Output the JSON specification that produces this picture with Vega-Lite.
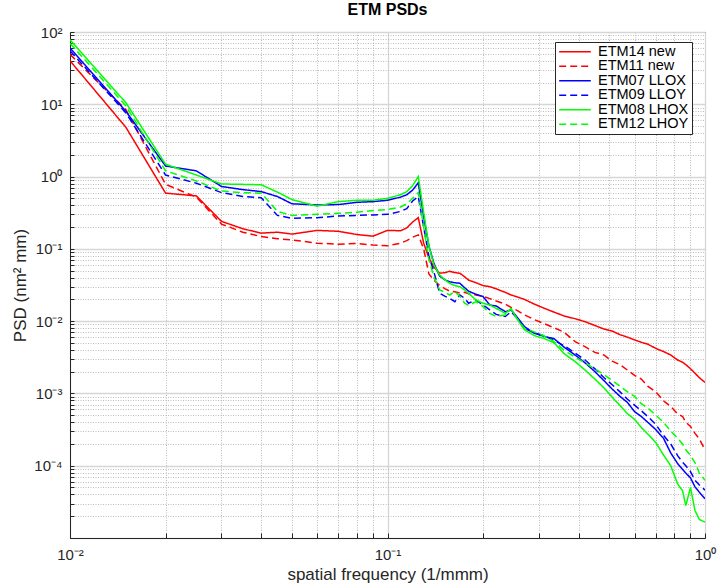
{
"$schema": "https://vega.github.io/schema/vega-lite/v6.json",
"width": 635, "height": 506,
"autosize": {"type": "none"},
"padding": {"left": 70, "top": 32, "right": 12, "bottom": 50},
"background": "white",
"config": {"font": "Liberation Sans", "view": {"stroke": "#262626", "strokeWidth": 1}},
"title": {"text": "ETM PSDs", "fontSize": 16, "fontWeight": "bold", "font": "Liberation Sans", "offset": 7, "color": "black"},
"data": {"values": [
{"f":0.01,"ETM14 new":40,"ETM11 new":49,"ETM07 LLOX":60,"ETM09 LLOY":55,"ETM08 LHOX":78,"ETM12 LHOY":70},
{"f":0.015,"ETM14 new":4.8,"ETM11 new":8.4,"ETM07 LLOX":8.0,"ETM09 LLOY":7.6,"ETM08 LHOX":10.5,"ETM12 LHOY":9.5},
{"f":0.02,"ETM14 new":0.59,"ETM11 new":0.78,"ETM07 LLOX":1.4,"ETM09 LLOY":1.05,"ETM08 LHOX":1.48,"ETM12 LHOY":1.2},
{"f":0.025,"ETM14 new":0.54,"ETM11 new":0.52,"ETM07 LLOX":1.2,"ETM09 LLOY":0.81,"ETM08 LHOX":1.05,"ETM12 LHOY":0.87},
{"f":0.03,"ETM14 new":0.24,"ETM11 new":0.22,"ETM07 LLOX":0.73,"ETM09 LLOY":0.6,"ETM08 LHOX":0.79,"ETM12 LHOY":0.63},
{"f":0.035,"ETM14 new":0.19,"ETM11 new":0.17,"ETM07 LLOX":0.66,"ETM09 LLOY":0.53,"ETM08 LHOX":0.78,"ETM12 LHOY":0.6},
{"f":0.04,"ETM14 new":0.165,"ETM11 new":0.148,"ETM07 LLOX":0.62,"ETM09 LLOY":0.51,"ETM08 LHOX":0.77,"ETM12 LHOY":0.59},
{"f":0.045,"ETM14 new":0.17,"ETM11 new":0.138,"ETM07 LLOX":0.53,"ETM09 LLOY":0.29,"ETM08 LHOX":0.61,"ETM12 LHOY":0.33},
{"f":0.05,"ETM14 new":0.16,"ETM11 new":0.133,"ETM07 LLOX":0.42,"ETM09 LLOY":0.265,"ETM08 LHOX":0.48,"ETM12 LHOY":0.29},
{"f":0.06,"ETM14 new":0.18,"ETM11 new":0.12,"ETM07 LLOX":0.405,"ETM09 LLOY":0.27,"ETM08 LHOX":0.39,"ETM12 LHOY":0.3},
{"f":0.07,"ETM14 new":0.175,"ETM11 new":0.116,"ETM07 LLOX":0.41,"ETM09 LLOY":0.285,"ETM08 LHOX":0.45,"ETM12 LHOY":0.31},
{"f":0.08,"ETM14 new":0.158,"ETM11 new":0.119,"ETM07 LLOX":0.44,"ETM09 LLOY":0.29,"ETM08 LHOX":0.47,"ETM12 LHOY":0.32},
{"f":0.09,"ETM14 new":0.15,"ETM11 new":0.113,"ETM07 LLOX":0.45,"ETM09 LLOY":0.295,"ETM08 LHOX":0.47,"ETM12 LHOY":0.34},
{"f":0.1,"ETM14 new":0.18,"ETM11 new":0.11,"ETM07 LLOX":0.47,"ETM09 LLOY":0.3,"ETM08 LHOX":0.5,"ETM12 LHOY":0.35},
{"f":0.11,"ETM14 new":0.178,"ETM11 new":0.12,"ETM07 LLOX":0.52,"ETM09 LLOY":0.33,"ETM08 LHOX":0.56,"ETM12 LHOY":0.38},
{"f":0.115,"ETM14 new":0.195,"ETM11 new":0.13,"ETM07 LLOX":0.56,"ETM09 LLOY":0.36,"ETM08 LHOX":0.62,"ETM12 LHOY":0.42},
{"f":0.12,"ETM14 new":0.235,"ETM11 new":0.145,"ETM07 LLOX":0.65,"ETM09 LLOY":0.46,"ETM08 LHOX":0.75,"ETM12 LHOY":0.5},
{"f":0.125,"ETM14 new":0.27,"ETM11 new":0.156,"ETM07 LLOX":0.82,"ETM09 LLOY":0.53,"ETM08 LHOX":1.0,"ETM12 LHOY":0.6},
{"f":0.13,"ETM14 new":0.12,"ETM11 new":0.1,"ETM07 LLOX":0.28,"ETM09 LLOY":0.2,"ETM08 LHOX":0.32,"ETM12 LHOY":0.2},
{"f":0.135,"ETM14 new":0.075,"ETM11 new":0.045,"ETM07 LLOX":0.11,"ETM09 LLOY":0.079,"ETM08 LHOX":0.11,"ETM12 LHOY":0.071},
{"f":0.14,"ETM14 new":0.056,"ETM11 new":0.037,"ETM07 LLOX":0.063,"ETM09 LLOY":0.048,"ETM08 LHOX":0.06,"ETM12 LHOY":0.041},
{"f":0.146,"ETM14 new":0.046,"ETM11 new":0.031,"ETM07 LLOX":0.042,"ETM09 LLOY":0.0243,"ETM08 LHOX":0.0435,"ETM12 LHOY":0.027},
{"f":0.152,"ETM14 new":0.047,"ETM11 new":0.028,"ETM07 LLOX":0.037,"ETM09 LLOY":0.022,"ETM08 LHOX":0.037,"ETM12 LHOY":0.025},
{"f":0.157,"ETM14 new":0.049,"ETM11 new":0.026,"ETM07 LLOX":0.035,"ETM09 LLOY":0.0207,"ETM08 LHOX":0.0334,"ETM12 LHOY":0.023},
{"f":0.163,"ETM14 new":0.047,"ETM11 new":0.0255,"ETM07 LLOX":0.034,"ETM09 LLOY":0.0186,"ETM08 LHOX":0.031,"ETM12 LHOY":0.0256},
{"f":0.169,"ETM14 new":0.046,"ETM11 new":0.0245,"ETM07 LLOX":0.0334,"ETM09 LLOY":0.023,"ETM08 LHOX":0.03,"ETM12 LHOY":0.022},
{"f":0.175,"ETM14 new":0.041,"ETM11 new":0.025,"ETM07 LLOX":0.029,"ETM09 LLOY":0.0207,"ETM08 LHOX":0.027,"ETM12 LHOY":0.0177},
{"f":0.18,"ETM14 new":0.037,"ETM11 new":0.024,"ETM07 LLOX":0.026,"ETM09 LLOY":0.0177,"ETM08 LHOX":0.0243,"ETM12 LHOY":0.0165},
{"f":0.19,"ETM14 new":0.034,"ETM11 new":0.023,"ETM07 LLOX":0.0235,"ETM09 LLOY":0.0196,"ETM08 LHOX":0.0196,"ETM12 LHOY":0.0186},
{"f":0.2,"ETM14 new":0.031,"ETM11 new":0.022,"ETM07 LLOX":0.0219,"ETM09 LLOY":0.0167,"ETM08 LHOX":0.0177,"ETM12 LHOY":0.0159},
{"f":0.21,"ETM14 new":0.03,"ETM11 new":0.0205,"ETM07 LLOX":0.0167,"ETM09 LLOY":0.0143,"ETM08 LHOX":0.0167,"ETM12 LHOY":0.0128},
{"f":0.22,"ETM14 new":0.028,"ETM11 new":0.019,"ETM07 LLOX":0.0162,"ETM09 LLOY":0.0124,"ETM08 LHOX":0.015,"ETM12 LHOY":0.0116},
{"f":0.235,"ETM14 new":0.025,"ETM11 new":0.0172,"ETM07 LLOX":0.0135,"ETM09 LLOY":0.0116,"ETM08 LHOX":0.0128,"ETM12 LHOY":0.0122},
{"f":0.245,"ETM14 new":0.023,"ETM11 new":0.0155,"ETM07 LLOX":0.0143,"ETM09 LLOY":0.0135,"ETM08 LHOX":0.0148,"ETM12 LHOY":0.0148},
{"f":0.255,"ETM14 new":0.0218,"ETM11 new":0.0142,"ETM07 LLOX":0.0116,"ETM09 LLOY":0.0112,"ETM08 LHOX":0.011,"ETM12 LHOY":0.011},
{"f":0.27,"ETM14 new":0.02,"ETM11 new":0.0122,"ETM07 LLOX":0.0084,"ETM09 LLOY":0.0079,"ETM08 LHOX":0.0076,"ETM12 LHOY":0.0079},
{"f":0.29,"ETM14 new":0.0172,"ETM11 new":0.0105,"ETM07 LLOX":0.0068,"ETM09 LLOY":0.0069,"ETM08 LHOX":0.0063,"ETM12 LHOY":0.0071},
{"f":0.31,"ETM14 new":0.0152,"ETM11 new":0.0093,"ETM07 LLOX":0.0062,"ETM09 LLOY":0.0063,"ETM08 LHOX":0.0058,"ETM12 LHOY":0.0063},
{"f":0.335,"ETM14 new":0.0133,"ETM11 new":0.0081,"ETM07 LLOX":0.0057,"ETM09 LLOY":0.0054,"ETM08 LHOX":0.005,"ETM12 LHOY":0.0052},
{"f":0.36,"ETM14 new":0.0118,"ETM11 new":0.007,"ETM07 LLOX":0.00437,"ETM09 LLOY":0.00457,"ETM08 LHOX":0.00355,"ETM12 LHOY":0.00398},
{"f":0.39,"ETM14 new":0.0108,"ETM11 new":0.0052,"ETM07 LLOX":0.00339,"ETM09 LLOY":0.00363,"ETM08 LHOX":0.00275,"ETM12 LHOY":0.00316},
{"f":0.42,"ETM14 new":0.0098,"ETM11 new":0.0044,"ETM07 LLOX":0.00263,"ETM09 LLOY":0.00288,"ETM08 LHOX":0.00209,"ETM12 LHOY":0.00263},
{"f":0.45,"ETM14 new":0.0087,"ETM11 new":0.0037,"ETM07 LLOX":0.002,"ETM09 LLOY":0.00219,"ETM08 LHOX":0.00158,"ETM12 LHOY":0.00219},
{"f":0.48,"ETM14 new":0.0078,"ETM11 new":0.0034,"ETM07 LLOX":0.00151,"ETM09 LLOY":0.00166,"ETM08 LHOX":0.0012,"ETM12 LHOY":0.00182},
{"f":0.51,"ETM14 new":0.0073,"ETM11 new":0.0028,"ETM07 LLOX":0.00115,"ETM09 LLOY":0.00132,"ETM08 LHOX":0.00089,"ETM12 LHOY":0.00151},
{"f":0.54,"ETM14 new":0.0065,"ETM11 new":0.0025,"ETM07 LLOX":0.00091,"ETM09 LLOY":0.00105,"ETM08 LHOX":0.00068,"ETM12 LHOY":0.00126},
{"f":0.57,"ETM14 new":0.006,"ETM11 new":0.0021,"ETM07 LLOX":0.00075,"ETM09 LLOY":0.00083,"ETM08 LHOX":0.000525,"ETM12 LHOY":0.00105},
{"f":0.6,"ETM14 new":0.0055,"ETM11 new":0.00178,"ETM07 LLOX":0.00056,"ETM09 LLOY":0.00069,"ETM08 LHOX":0.000437,"ETM12 LHOY":0.00091},
{"f":0.63,"ETM14 new":0.0051,"ETM11 new":0.00158,"ETM07 LLOX":0.00048,"ETM09 LLOY":0.000575,"ETM08 LHOX":0.000339,"ETM12 LHOY":0.00072},
{"f":0.66,"ETM14 new":0.0048,"ETM11 new":0.00126,"ETM07 LLOX":0.0004,"ETM09 LLOY":0.00048,"ETM08 LHOX":0.000275,"ETM12 LHOY":0.00063},
{"f":0.7,"ETM14 new":0.0042,"ETM11 new":0.00105,"ETM07 LLOX":0.000316,"ETM09 LLOY":0.000372,"ETM08 LHOX":0.000209,"ETM12 LHOY":0.0005},
{"f":0.74,"ETM14 new":0.0038,"ETM11 new":0.00079,"ETM07 LLOX":0.00024,"ETM09 LLOY":0.000263,"ETM08 LHOX":0.000141,"ETM12 LHOY":0.0004},
{"f":0.78,"ETM14 new":0.0034,"ETM11 new":0.00066,"ETM07 LLOX":0.00015,"ETM09 LLOY":0.0002,"ETM08 LHOX":0.0001,"ETM12 LHOY":0.0003},
{"f":0.82,"ETM14 new":0.0029,"ETM11 new":0.00052,"ETM07 LLOX":0.000107,"ETM09 LLOY":0.000138,"ETM08 LHOX":0.000056,"ETM12 LHOY":0.00024},
{"f":0.85,"ETM14 new":0.0027,"ETM11 new":0.00048,"ETM07 LLOX":0.000089,"ETM09 LLOY":0.000112,"ETM08 LHOX":0.000045,"ETM12 LHOY":0.0002},
{"f":0.87,"ETM14 new":0.0025,"ETM11 new":0.0004,"ETM07 LLOX":0.000079,"ETM09 LLOY":0.0001,"ETM08 LHOX":0.000028,"ETM12 LHOY":0.000166},
{"f":0.9,"ETM14 new":0.0022,"ETM11 new":0.00035,"ETM07 LLOX":0.000068,"ETM09 LLOY":0.000083,"ETM08 LHOX":0.00005,"ETM12 LHOY":0.000138},
{"f":0.93,"ETM14 new":0.0019,"ETM11 new":0.00028,"ETM07 LLOX":0.000051,"ETM09 LLOY":0.000063,"ETM08 LHOX":0.000024,"ETM12 LHOY":0.00011},
{"f":0.96,"ETM14 new":0.00165,"ETM11 new":0.000234,"ETM07 LLOX":0.000043,"ETM09 LLOY":0.000054,"ETM08 LHOX":0.000018,"ETM12 LHOY":0.000079},
{"f":1.0,"ETM14 new":0.00142,"ETM11 new":0.000166,"ETM07 LLOX":0.000035,"ETM09 LLOY":0.000046,"ETM08 LHOX":0.0000166,"ETM12 LHOY":0.000063}
]},
"transform": [{"fold": ["ETM14 new","ETM11 new","ETM07 LLOX","ETM09 LLOY","ETM08 LHOX","ETM12 LHOY"], "as": ["series","psd"]}],
"mark": {"type": "line", "strokeWidth": 1.5, "clip": true},
"encoding": {
"x": {"field": "f", "type": "quantitative",
 "scale": {"type": "log", "domain": [0.01, 1], "nice": false},
 "axis": {"values": [0.01,0.02,0.03,0.04,0.05,0.06,0.07,0.08,0.09,0.1,0.2,0.3,0.4,0.5,0.6,0.7,0.8,0.9,1],
  "labelExpr": "datum.value == 0.01 ? '10⁻²' : datum.value == 0.1 ? '10⁻¹' : datum.value == 1 ? '10⁰' : ''",
  "labelOverlap": false, "labelFlush": false, "labelFontSize": 15, "labelColor": "#262626", "labelPadding": 14,
  "ticks": true, "tickSize": -5, "tickColor": "#262626", "tickWidth": 1,
  "domainColor": "#262626",
  "grid": true,
  "gridColor": {"condition": {"test": "datum.value == 0.01 || datum.value == 0.1 || datum.value == 1", "value": "#d6d6d6"}, "value": "#b4b4b4"},
  "gridDash": {"condition": {"test": "datum.value == 0.01 || datum.value == 0.1 || datum.value == 1", "value": []}, "value": [1, 1.5]},
  "gridWidth": {"condition": {"test": "datum.value == 0.01 || datum.value == 0.1 || datum.value == 1", "value": 1.3}, "value": 0.9},
  "title": "spatial frequency (1/mmm)", "titleFontSize": 17, "titleFontWeight": "normal", "titleColor": "#262626", "titlePadding": 4}},
"y": {"field": "psd", "type": "quantitative",
 "scale": {"type": "log", "domain": [0.00001, 100], "nice": false},
 "axis": {"values": [0.00001,0.00002,0.00003,0.00004,0.00005,0.00006,0.00007,0.00008,0.00009,0.0001,0.0002,0.0003,0.0004,0.0005,0.0006,0.0007,0.0008,0.0009,0.001,0.002,0.003,0.004,0.005,0.006,0.007,0.008,0.009,0.01,0.02,0.03,0.04,0.05,0.06,0.07,0.08,0.09,0.1,0.2,0.3,0.4,0.5,0.6,0.7,0.8,0.9,1,2,3,4,5,6,7,8,9,10,20,30,40,50,60,70,80,90,100],
  "labelExpr": "datum.value == 0.0001 ? '10⁻⁴' : datum.value == 0.001 ? '10⁻³' : datum.value == 0.01 ? '10⁻²' : datum.value == 0.1 ? '10⁻¹' : datum.value == 1 ? '10⁰' : datum.value == 10 ? '10¹' : datum.value == 100 ? '10²' : ''",
  "labelOverlap": false, "labelFlush": false, "labelFontSize": 15, "labelColor": "#262626", "labelPadding": 12,
  "ticks": true, "tickSize": -4, "tickColor": "#262626", "tickWidth": 1,
  "domainColor": "#262626",
  "grid": true,
  "gridColor": {"condition": {"test": "datum.value == 0.0001 || datum.value == 0.001 || datum.value == 0.01 || datum.value == 0.1 || datum.value == 1 || datum.value == 10 || datum.value == 100 || datum.value == 0.00001", "value": "#d6d6d6"}, "value": "#b4b4b4"},
  "gridDash": {"condition": {"test": "datum.value == 0.0001 || datum.value == 0.001 || datum.value == 0.01 || datum.value == 0.1 || datum.value == 1 || datum.value == 10 || datum.value == 100 || datum.value == 0.00001", "value": []}, "value": [1, 1.5]},
  "gridWidth": {"condition": {"test": "datum.value == 0.0001 || datum.value == 0.001 || datum.value == 0.01 || datum.value == 0.1 || datum.value == 1 || datum.value == 10 || datum.value == 100 || datum.value == 0.00001", "value": 1.3}, "value": 0.9},
  "title": "PSD (nm² mm)", "titleFontSize": 17, "titleFontWeight": "normal", "titleColor": "#262626", "titlePadding": 4}},
"color": {"field": "series", "type": "nominal",
 "scale": {"domain": ["ETM14 new","ETM11 new","ETM07 LLOX","ETM09 LLOY","ETM08 LHOX","ETM12 LHOY"], "range": ["#ff0000","#ff0000","#0000ff","#0000ff","#00ff00","#00ff00"]},
 "legend": {"title": null, "orient": "none", "legendX": 485, "legendY": 10, "strokeColor": "#262626", "fillColor": "white", "padding": 3,
  "labelFontSize": 14.5, "labelColor": "black", "symbolType": "stroke", "symbolSize": 1000, "symbolStrokeWidth": 1.5,
  "rowPadding": -1.5, "labelOffset": 6, "clipHeight": 13.5, "labelLimit": 200}},
"strokeDash": {"field": "series", "type": "nominal",
 "scale": {"domain": ["ETM14 new","ETM11 new","ETM07 LLOX","ETM09 LLOY","ETM08 LHOX","ETM12 LHOY"], "range": [[1,0],[7,4],[1,0],[7,4],[1,0],[7,4]]}}
}
}
